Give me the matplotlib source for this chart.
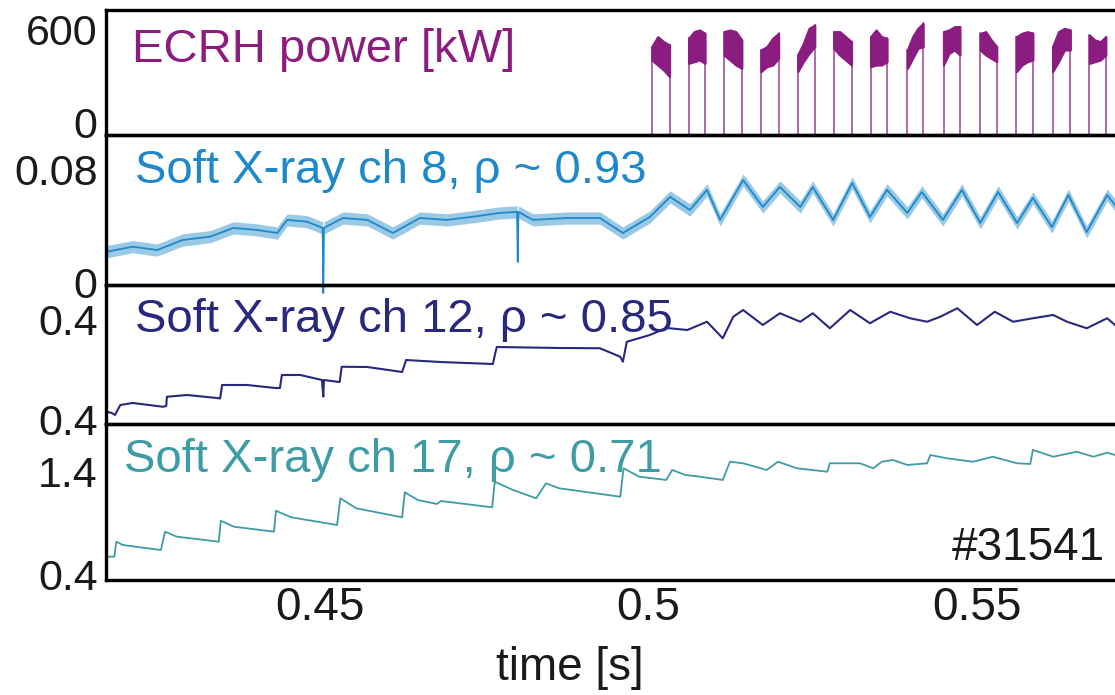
import matplotlib
matplotlib.use("Agg")
import matplotlib.pyplot as plt
import numpy as np

plt.rcParams['font.family'] = ['Liberation Sans', 'DejaVu Sans']

# ---------------- data ----------------
x_limits = (0.41743, 0.5710)
x_ticks = [0.45, 0.5, 0.55]
x_ticklabels = ['0.45', '0.5', '0.55']
x_label = 'time [s]'
shot_label = '#31541'

# ECRH power [kW]: pulse on/off times and blob top/bottom levels (4 readings per pulse)
ecrh_on = [0.5005, 0.5061, 0.5115, 0.5171, 0.5227, 0.5282, 0.5338,
           0.5394, 0.5449, 0.5505, 0.5560, 0.5615, 0.5671]
ecrh_off = [0.5032, 0.5086, 0.5142, 0.5198, 0.5253, 0.5309, 0.5363,
            0.5418, 0.5474, 0.5530, 0.5585, 0.5642, 0.5696]
ecrh_top = [[530, 590, 560, 540], [580, 620, 630, 610], [620, 630, 620, 570],
            [510, 530, 580, 610], [480, 550, 640, 660], [620, 620, 590, 560],
            [590, 630, 590, 580], [510, 590, 640, 670], [620, 630, 650, 650],
            [610, 620, 570, 530], [590, 610, 620, 610], [530, 620, 640, 630],
            [600, 570, 560, 590]]
ecrh_bottom = [[450, 420, 390, 350], [430, 440, 450, 430], [480, 450, 420, 400],
               [380, 410, 420, 460], [380, 440, 490, 530], [520, 480, 450, 420],
               [410, 420, 420, 440], [400, 460, 520, 530], [420, 490, 510, 480],
               [510, 480, 460, 440], [380, 420, 440, 450], [380, 440, 510, 510],
               [430, 440, 450, 480]]

# Soft X-ray ch 8
ch8_t = [0.4176, 0.4215, 0.4252, 0.4291, 0.4333, 0.4368, 0.4404, 0.4435, 0.4450,
         0.4480, 0.4504, 0.4505, 0.4506, 0.4535, 0.4572, 0.4611, 0.4652, 0.4693,
         0.4733, 0.4774, 0.4800, 0.4801, 0.4802, 0.4824, 0.4876, 0.4926, 0.4961,
         0.5002, 0.5033, 0.5063, 0.5089, 0.5109, 0.5144, 0.5174, 0.5200, 0.5231,
         0.5250, 0.5281, 0.5310, 0.5337, 0.5363, 0.5394, 0.5416, 0.5448, 0.5477,
         0.5505, 0.5532, 0.5561, 0.5585, 0.5614, 0.5639, 0.5667, 0.5698, 0.5710]
ch8_v = [0.0229, 0.0263, 0.0240, 0.0309, 0.0332, 0.0392, 0.0378, 0.0357, 0.0447,
         0.0435, 0.0392, -0.0055, 0.0392, 0.0460, 0.0447, 0.0357, 0.0460, 0.0447,
         0.0469, 0.0495, 0.0502, 0.0158, 0.0502, 0.0447, 0.0460, 0.0460, 0.0357,
         0.0467, 0.0605, 0.0515, 0.0653, 0.0447, 0.0721, 0.0536, 0.0673, 0.0536,
         0.0673, 0.0447, 0.0701, 0.0467, 0.0653, 0.0495, 0.0639, 0.0447, 0.0653,
         0.0426, 0.0639, 0.0426, 0.0598, 0.0398, 0.0618, 0.0364, 0.0618, 0.0550]
ch8_noise = 0.0042  # half-width of the noisy band

# Soft X-ray ch 12
ch12_t = [0.4176, 0.4183, 0.4188, 0.4196, 0.4215, 0.4261, 0.4266, 0.4267, 0.4298,
          0.4343, 0.4348, 0.4351, 0.4389, 0.4432, 0.4439, 0.4442, 0.4470, 0.4503,
          0.4505, 0.4506, 0.4526, 0.4530, 0.4533, 0.4572, 0.4625, 0.4631, 0.4683,
          0.4763, 0.4769, 0.4865, 0.4926, 0.4957, 0.4961, 0.4967, 0.5002, 0.5028,
          0.5059, 0.5089, 0.5113, 0.5129, 0.5144, 0.5174, 0.5200, 0.5231, 0.5250,
          0.5276, 0.5307, 0.5337, 0.5368, 0.5398, 0.5424, 0.5444, 0.5470, 0.5500,
          0.5527, 0.5555, 0.5585, 0.5616, 0.5637, 0.5667, 0.5698, 0.5710]
ch12_v = [0.433, 0.428, 0.420, 0.460, 0.468, 0.453, 0.456, 0.493, 0.500,
          0.488, 0.486, 0.540, 0.540, 0.528, 0.528, 0.580, 0.580, 0.560,
          0.493, 0.560, 0.553, 0.552, 0.613, 0.612, 0.592, 0.640, 0.632,
          0.624, 0.692, 0.688, 0.687, 0.653, 0.633, 0.713, 0.740, 0.768,
          0.760, 0.793, 0.727, 0.813, 0.840, 0.780, 0.827, 0.793, 0.827,
          0.767, 0.840, 0.787, 0.833, 0.807, 0.793, 0.813, 0.847, 0.780,
          0.833, 0.793, 0.807, 0.820, 0.793, 0.767, 0.807, 0.780]

# Soft X-ray ch 17
ch17_t = [0.4177, 0.4187, 0.4190, 0.4200, 0.4258, 0.4264, 0.4282, 0.4346, 0.4349,
          0.4369, 0.4430, 0.4433, 0.4456, 0.4526, 0.4531, 0.4555, 0.4625, 0.4629,
          0.4649, 0.4678, 0.4684, 0.4762, 0.4766, 0.4794, 0.4829, 0.4844, 0.4864,
          0.4957, 0.4962, 0.4986, 0.5027, 0.5036, 0.5056, 0.5078, 0.5113, 0.5124,
          0.5144, 0.5180, 0.5197, 0.5226, 0.5272, 0.5276, 0.5322, 0.5342, 0.5355,
          0.5372, 0.5394, 0.5424, 0.5429, 0.5454, 0.5494, 0.5524, 0.5561, 0.5581,
          0.5585, 0.5616, 0.5652, 0.5677, 0.5698, 0.5710]
ch17_v = [0.566, 0.566, 0.719, 0.685, 0.634, 0.821, 0.770, 0.719, 0.933,
          0.872, 0.821, 1.035, 0.968, 0.889, 1.162, 1.060, 0.968, 1.223,
          1.144, 1.104, 1.134, 1.070, 1.331, 1.246, 1.162, 1.315, 1.264,
          1.178, 1.468, 1.382, 1.349, 1.451, 1.400, 1.382, 1.349, 1.535,
          1.519, 1.451, 1.535, 1.468, 1.433, 1.519, 1.519, 1.468, 1.535,
          1.553, 1.502, 1.519, 1.604, 1.570, 1.535, 1.586, 1.519, 1.512,
          1.655, 1.586, 1.637, 1.586, 1.627, 1.604]

panel_titles = ['ECRH power [kW]', 'Soft X-ray ch 8, \u03c1 ~ 0.93',
                'Soft X-ray ch 12, \u03c1 ~ 0.85', 'Soft X-ray ch 17, \u03c1 ~ 0.71']
panel_ylims = [(0, 750), (0, 0.103), (0.384, 0.94), (0.328, 1.92)]
ytick_values = [[600, 0], [0.08, 0], [0.8, 0.4], [1.4, 0.4]]
ytick_labels = [['600', '0'], ['0.08', '0'], ['0.4', '0.4'], ['1.4', '0.4']]

# ---------------- style / layout ----------------
purple = '#8C1D80'
blue = '#1F88C9'
navy = '#28287C'
teal = '#3E9CA4'
colors = [purple, blue, navy, teal]

W, H = 1115, 695
fig = plt.figure(figsize=(W / 100, H / 100), dpi=100)
panel_px = [(10, 135), (135, 285), (285, 424), (424, 580)]
left_px = 106
ytick_dy = [[-7.5, -2.4], [-12.2, -9.6], [-11.1, -11.1], [-8.9, -12.5]]  # points
title_pos = [(132, 62), (135, 183), (135, 332), (124, 472)]  # px, baseline

def fx(x):
    return x / W

def fy(y):
    return 1 - y / H

axes = []
for i, (top, bot) in enumerate(panel_px):
    ax = fig.add_axes([left_px / W, 1 - bot / H, 1 - left_px / W, (bot - top) / H])
    ax.set_facecolor('none')
    ax.set_xlim(*x_limits)
    ax.set_ylim(*panel_ylims[i])
    for side in ['top', 'bottom', 'left']:
        ax.spines[side].set_linewidth(2.4)
        ax.spines[side].set_color('black')
        ax.spines[side].set_zorder(10)
    ax.spines['right'].set_visible(False)
    ax.tick_params(length=0)
    ax.set_yticks([])
    if i < 3:
        ax.set_xticks([])
    axes.append(ax)

ax1, ax2, ax3, ax4 = axes

# ECRH pulses
for on, off, tp, bt in zip(ecrh_on, ecrh_off, ecrh_top, ecrh_bottom):
    ts = np.linspace(on, off, len(tp))
    ax1.fill_between(ts, bt, tp, color=purple, lw=1.6, edgecolor=purple)
    ax1.plot([on, on], [0, tp[0]], color=purple, lw=1.1, alpha=0.85)
    ax1.plot([off, off], [tp[-1], 0], color=purple, lw=1.1, alpha=0.85)

# ch 8
ch8_v_arr = np.array(ch8_v)
ax2.fill_between(ch8_t, ch8_v_arr - ch8_noise, ch8_v_arr + ch8_noise,
                 color=blue, alpha=0.45, lw=0)
ax2.plot(ch8_t, ch8_v, color=blue, lw=1.3, clip_on=False, zorder=3)

# ch 12
ax3.plot(ch12_t, ch12_v, color=navy, lw=1.5, clip_on=False, zorder=3)

# ch 17
ax4.plot(ch17_t, ch17_v, color=teal, lw=1.3, zorder=3)

# y tick labels
for i, ax in enumerate(axes):
    for val, lab, dy in zip(ytick_values[i], ytick_labels[i], ytick_dy[i]):
        ax.annotate(lab, xy=(0, val), xycoords=ax.get_yaxis_transform(),
                    xytext=(-6, dy), textcoords='offset points',
                    ha='right', va='baseline', fontsize=31, color='#1a1a1a',
                    annotation_clip=False)

# x ticks
ax4.set_xticks(x_ticks)
ax4.set_xticklabels(x_ticklabels, fontsize=33, color='#1a1a1a')
ax4.tick_params(axis='x', length=0, pad=4)

fig.text(fx(570), fy(680), x_label, ha='center', va='baseline',
         fontsize=33, color='#1a1a1a')

# panel titles
for (px, py), txt, c in zip(title_pos, panel_titles, colors):
    fig.text(fx(px), fy(py), txt, ha='left', va='baseline', fontsize=34,
             color=c, zorder=20)

fig.text(fx(1105), fy(560), shot_label, ha='right', va='baseline',
         fontsize=33, color='#1a1a1a')

fig.savefig('out.png', dpi=100)
